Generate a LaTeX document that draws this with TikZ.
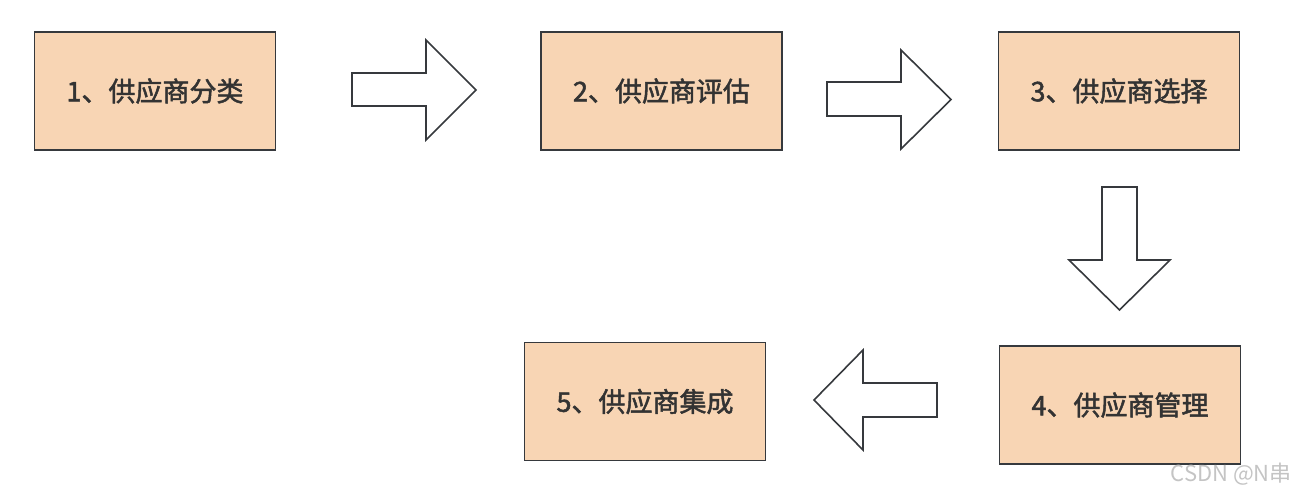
\documentclass[tikz,border=0pt]{standalone}
\usepackage{fontspec}
\setmainfont{Noto Sans CJK SC}
\newfontfamily\cjk[FakeBold=1.8]{Noto Sans CJK SC}
\definecolor{boxfill}{HTML}{F8D5B4}
\definecolor{boxline}{HTML}{36393D}
\definecolor{txt}{HTML}{333333}
\definecolor{wm}{HTML}{C4C4C4}
\begin{document}
\begin{tikzpicture}[x=1pt,y=-1pt,
  stepbox/.style={draw=boxline,fill=boxfill,line width=1.5pt,minimum width=241pt,minimum height=118pt,inner sep=0pt,font=\cjk\fontsize{27}{27}\selectfont,text=txt},
  blockarrow/.style={draw=boxline,fill=white,line width=1.6pt,line join=miter}]
\useasboundingbox (0,0) rectangle (1298,498);
\node[stepbox] (s1) at (155,91) {1、供应商分类};
\node[stepbox] (s2) at (661.5,91) {2、供应商评估};
\node[stepbox] (s3) at (1119,91) {3、供应商选择};
\node[stepbox] (s4) at (1120,405) {4、供应商管理};
\node[stepbox] (s5) at (645,401.5) {5、供应商集成};
% arrows
\draw[blockarrow] (352,73) -- (426,73) -- (426,40) -- (476,90) -- (426,140) -- (426,106) -- (352,106) -- cycle;
\draw[blockarrow] (827,82) -- (901,82) -- (901,50) -- (951,99.5) -- (901,149) -- (901,116) -- (827,116) -- cycle;
\draw[blockarrow] (1102,187) -- (1137,187) -- (1137,260) -- (1170,260) -- (1119.5,310) -- (1069,260) -- (1102,260) -- cycle;
\draw[blockarrow] (937,383) -- (863,383) -- (863,350) -- (814,400) -- (863,450) -- (863,417) -- (937,417) -- cycle;
\node[font=\fontsize{22}{22}\selectfont,text=wm,anchor=east,inner sep=0pt] (wmk) at (1292,474) {CSDN @N串};
\end{tikzpicture}
\end{document}
